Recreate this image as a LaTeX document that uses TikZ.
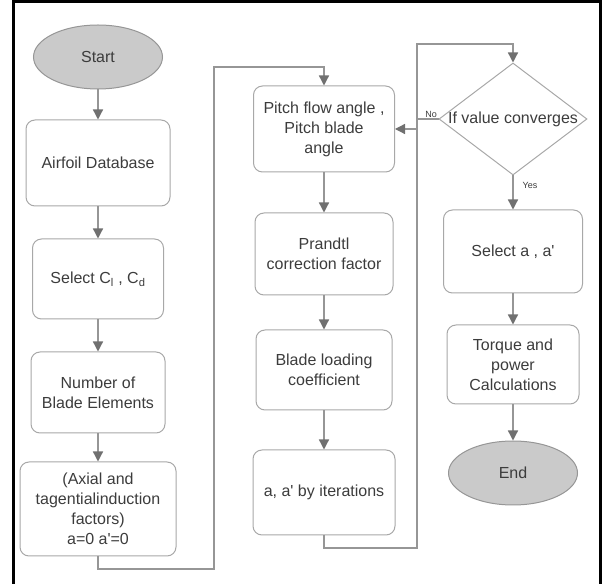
\documentclass[tikz,border=0pt]{standalone}
\usepackage{fontspec}
\setsansfont{Liberation Sans}[Ligatures=TeXOff]
\usetikzlibrary{shapes, arrows.meta, positioning, calc}
\definecolor{textgray}{RGB}{60,60,60}
\definecolor{boxgray}{RGB}{168,168,168}
\definecolor{linegray}{RGB}{150,150,150}
\definecolor{tipgray}{RGB}{112,112,112}
\definecolor{termgray}{RGB}{202,202,202}
\tikzset{every node/.style={font=\sffamily\fontsize{16}{20}\selectfont, text=textgray}}

\begin{document}
\begin{tikzpicture}[x=1pt, y=1pt]
  \tikzstyle{startstop} = [ellipse, minimum width=129pt, minimum height=64pt, draw=linegray, fill=termgray, line width=1pt]
  \tikzstyle{process} = [rectangle, rounded corners=9pt, minimum width=138pt, minimum height=82pt, align=center, draw=boxgray, line width=1pt]
  \tikzstyle{decision} = [diamond, minimum width=148pt, minimum height=112pt, inner sep=0pt, draw=boxgray, line width=1pt]
  \tikzstyle{arrow} = [line width=1.3pt, draw=linegray, -{Triangle[width=10pt, length=10pt, color=tipgray]}]
  \tikzstyle{tag} = [font=\sffamily\fontsize{9}{11}\selectfont, inner sep=1pt]
  \useasboundingbox (0,0) rectangle (606,584);
  \draw [line width=3pt] (13.3,0) -- (13.3,582.7) -- (600.5,582.7) -- (600.5,0);
  % first column
  \node (start) [startstop] at (98,527) {Start};
  \node (airfoil) [process, below=30pt of start, minimum width=144pt, minimum height=86pt] {Airfoil Database};
  \node (selcl) [process, below=32pt of airfoil, minimum width=131pt, minimum height=80pt] {Select C\textsubscript{l} , C\textsubscript{d}};
  \node (nblade) [process, below=32pt of selcl, minimum width=134pt, minimum height=81pt] {Number of\\Blade Elements};
  \node (axial) [process, below=28pt of nblade, minimum width=156pt, minimum height=94pt] {(Axial and\\tagentialinduction\\factors)\\a=0 a'=0};
  % second column
  \node (pitch) [process, minimum width=141pt, minimum height=86pt] at (324,455) {Pitch flow angle ,\\Pitch blade\\angle};
  \node (prandtl) [process, below=40pt of pitch] {Prandtl\\correction factor};
  \node (blade) [process, below=34pt of prandtl, minimum width=136pt, minimum height=80pt] {Blade loading\\coefficient};
  \node (aiter) [process, below=39pt of blade, minimum width=142pt, minimum height=85pt] {a, a' by iterations};
  % third column
  \node (conv) [decision] at (513,465) {\makebox[0pt]{If value converges}};
  \node (sela) [process, below=34pt of conv, minimum width=139pt, minimum height=83pt] {Select a , a'};
  \node (torque) [process, below=31pt of sela, minimum width=132pt, minimum height=79pt] {Torque and\\power\\Calculations};
  \node (end) [startstop, below=36pt of torque] {End};
  % loop corners
  \coordinate (lowA) at (214,15);
  \coordinate (topA) at (214,517);
  \coordinate (lowB) at (417,36);
  \coordinate (topB) at (417,540);
  \draw [arrow] (start) -- (airfoil);
  \draw [arrow] (airfoil) -- (selcl);
  \draw [arrow] (selcl) -- (nblade);
  \draw [arrow] (nblade) -- (axial);
  \draw [arrow] (axial.south) |- (lowA) -- (topA) -| (pitch.north);
  \draw [arrow] (pitch) -- (prandtl);
  \draw [arrow] (prandtl) -- (blade);
  \draw [arrow] (blade) -- (aiter);
  \draw [arrow] (aiter.south) |- (lowB) -- (topB) -| (conv.north);
  \draw [arrow] (conv.west) node [tag, above left] {No} -- ++(-22,0) |- (pitch.east);
  \draw [arrow] (conv.south) -- node [tag, right=8pt, pos=0.3] {Yes} (sela);
  \draw [arrow] (sela) -- (torque);
  \draw [arrow] (torque) -- (end);
\end{tikzpicture}
\end{document}
